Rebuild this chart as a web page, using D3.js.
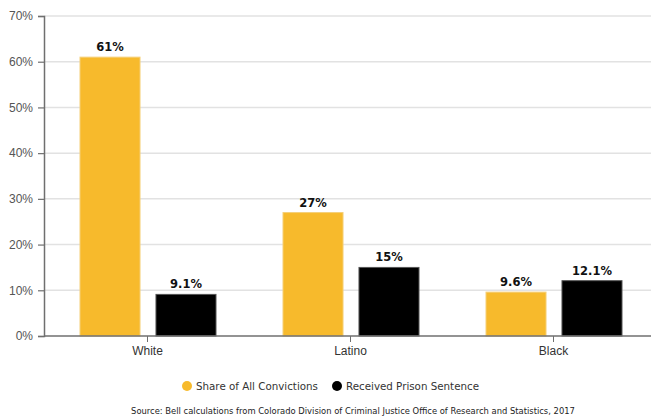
<!DOCTYPE html>
<html>
<head>
<meta charset="utf-8">
<script src="https://cdn.jsdelivr.net/npm/d3@7"></script>
<style>
  html, body { margin: 0; padding: 0; background: #fff; }
  svg { display: block; font-family: "DejaVu Sans", sans-serif; }
</style>
</head>
<body>
<svg id="chart" width="651" height="419"></svg>
<script>
// Chart data
const categories = ["White", "Latino", "Black"];
const seriesNames = ["Share of All Convictions", "Received Prison Sentence"];
const convictions = [61, 27, 9.6];
const prisonSentence = [9.1, 15, 12.1];
const convictionLabels = ["61%", "27%", "9.6%"];
const prisonLabels = ["9.1%", "15%", "12.1%"];
const yTicks = [0, 10, 20, 30, 40, 50, 60, 70];
const sourceText = "Source: Bell calculations from Colorado Division of Criminal Justice Office of Research and Statistics, 2017";

const colors = ["#F7BA2C", "#000000"];
const strokes = ["#F5CF78", "#555555"];

const svg = d3.select("#chart");
const W = 651;
const margin = { top: 16, left: 44, bottom: 336 };

const y = d3.scaleLinear().domain([0, 70]).range([margin.bottom, margin.top]);
const x0 = d3.scaleBand().domain(categories).range([46, 655]).paddingInner(0).paddingOuter(0);
const x1 = d3.scaleBand().domain(seriesNames).range([34, 170]).paddingInner(0.21);

// Gridlines
svg.append("g")
  .selectAll("line")
  .data(yTicks.filter(t => t > 0))
  .join("line")
  .attr("x1", margin.left)
  .attr("x2", W)
  .attr("y1", d => y(d))
  .attr("y2", d => y(d))
  .attr("stroke", "#e2e2e2")
  .attr("stroke-width", 1.5);

// Y axis
const yAxis = svg.append("g")
  .attr("transform", `translate(${margin.left},0)`)
  .call(d3.axisLeft(y).tickValues(yTicks).tickFormat(d => d + "%").tickSize(6).tickPadding(5));
yAxis.select(".domain").attr("stroke", "#6f6f6f").attr("stroke-width", 1.5);
yAxis.selectAll(".tick line").attr("stroke", "#6f6f6f").attr("stroke-width", 1.2);
yAxis.selectAll(".tick text").attr("fill", "#555").style("font-size", "12px");

// Bars
const rows = categories.map((c, i) => ({
  cat: c,
  vals: [
    { s: seriesNames[0], v: convictions[i], label: convictionLabels[i], k: 0 },
    { s: seriesNames[1], v: prisonSentence[i], label: prisonLabels[i], k: 1 }
  ]
}));

const groups = svg.append("g")
  .selectAll("g")
  .data(rows)
  .join("g")
  .attr("transform", d => `translate(${x0(d.cat)},0)`);

groups.selectAll("rect")
  .data(d => d.vals)
  .join("rect")
  .attr("x", d => x1(d.s))
  .attr("width", x1.bandwidth())
  .attr("y", d => y(d.v))
  .attr("height", d => y(0) - y(d.v))
  .attr("fill", d => colors[d.k])
  .attr("stroke", d => strokes[d.k])
  .attr("stroke-width", 1);

groups.selectAll("text")
  .data(d => d.vals)
  .join("text")
  .attr("x", d => x1(d.s) + x1.bandwidth() / 2)
  .attr("y", d => y(d.v) - 6)
  .attr("text-anchor", "middle")
  .attr("font-weight", "bold")
  .attr("font-size", "11.5px")
  .attr("fill", "#111")
  .text(d => d.label);

// X axis
const xAxis = svg.append("g")
  .attr("transform", `translate(0,${margin.bottom})`)
  .call(d3.axisBottom(x0).tickSize(6).tickPadding(4));
xAxis.select(".domain").attr("d", `M${margin.left},0H${W}`).attr("stroke", "#6f6f6f").attr("stroke-width", 1.5);
xAxis.selectAll(".tick line").attr("stroke", "#6f6f6f");
xAxis.selectAll(".tick text").attr("fill", "#333").style("font-size", "12px");

// Legend
const legendItems = [
  { name: seriesNames[0], cx: 187, k: 0 },
  { name: seriesNames[1], cx: 337, k: 1 }
];
const legend = svg.append("g").selectAll("g").data(legendItems).join("g")
  .attr("transform", d => `translate(${d.cx},386)`);
legend.append("circle").attr("r", 5).attr("fill", d => colors[d.k]);
legend.append("text")
  .attr("x", 9)
  .attr("dy", "0.35em")
  .attr("font-size", "10.3px")
  .attr("fill", "#333")
  .text(d => d.name);

// Source note
svg.append("text")
  .attr("x", 353)
  .attr("y", 414)
  .attr("text-anchor", "middle")
  .attr("font-size", "8.4px")
  .attr("fill", "#222")
  .text(sourceText);
</script>
</body>
</html>
